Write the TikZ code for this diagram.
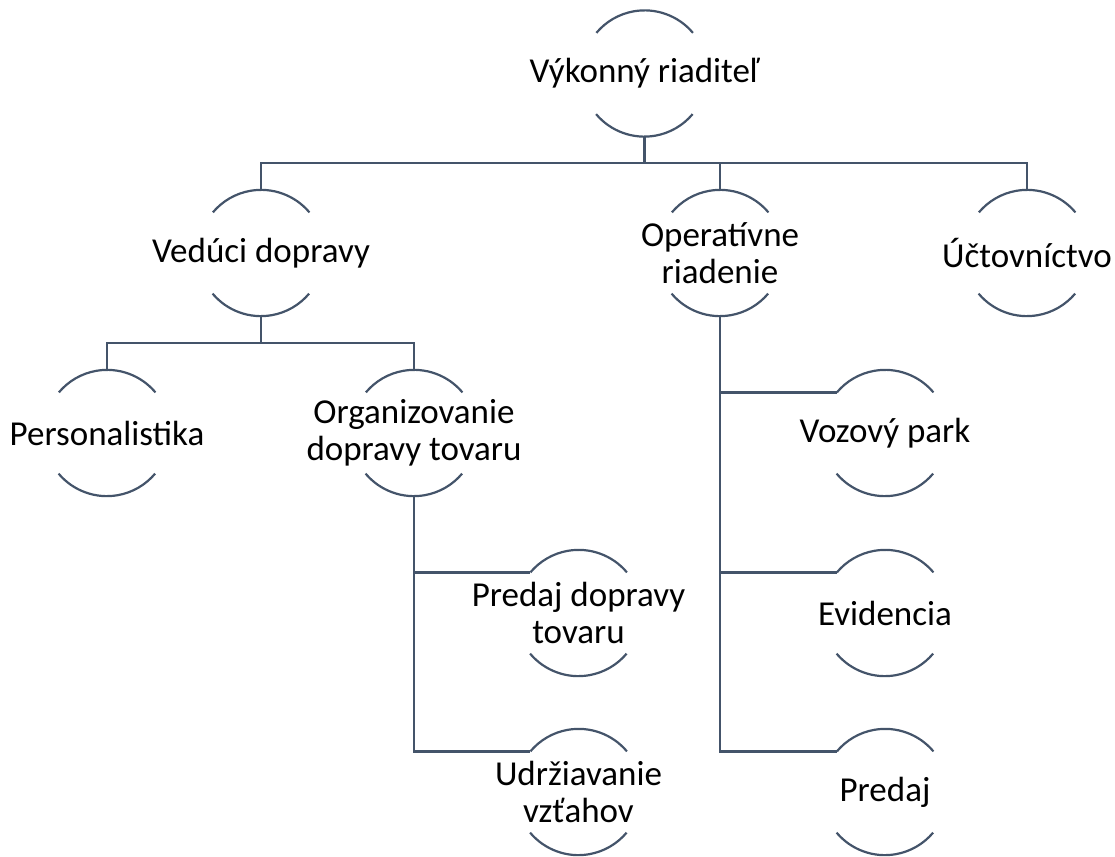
\documentclass[tikz,border=0pt]{standalone}
\usepackage{fontspec}
\setmainfont{Carlito}
\definecolor{lineblue}{HTML}{44546A}
\tikzset{
  ring/.style={circle, draw=none, minimum size=126pt, inner sep=0pt},
  lbl/.style={align=center, font=\fontsize{35}{37.5}\selectfont, text=black, inner sep=0pt},
  arcline/.style={draw=lineblue, line width=2.2pt},
  conn/.style={draw=lineblue, line width=2.4pt}
}
\newcommand{\ringarcs}[1]{%
  \draw[arcline] (#1.40) arc[start angle=40, end angle=140, radius=63pt];
  \draw[arcline] (#1.220) arc[start angle=220, end angle=320, radius=63pt];
}
\begin{document}
\begin{tikzpicture}[x=1pt,y=1pt]
\useasboundingbox (0,0) rectangle (1115,-856);
% nodes
\node[ring] (ceo) at (644.5,-73.5) {};
\node[ring] (ved) at (261,-253) {};
\node[ring] (ope) at (720,-253) {};
\node[ring] (uct) at (1027,-253) {};
\node[ring] (per) at (107,-433) {};
\node[ring] (org) at (414,-433) {};
\node[ring] (voz) at (885,-433) {};
\node[ring] (pdt) at (578.5,-613) {};
\node[ring] (evi) at (885,-613) {};
\node[ring] (udr) at (578.5,-792) {};
\node[ring] (pre) at (885,-792) {};
% labels
\node[lbl] (tceo) at (ceo) {Výkonný riaditeľ};
\node[lbl] (tved) at (ved) {Vedúci dopravy};
\node[lbl] (tope) at (ope) {Operatívne\\riadenie};
\node[lbl] (tuct) at (uct) {Účtovníctvo};
\node[lbl] (tper) at (per) {Personalistika};
\node[lbl] (torg) at (org) {Organizovanie\\dopravy tovaru};
\node[lbl] (tvoz) at (voz) {Vozový park};
\node[lbl] (tpdt) at (pdt) {Predaj dopravy\\tovaru};
\node[lbl] (tevi) at (evi) {Evidencia};
\node[lbl] (tudr) at (udr) {Udržiavanie\\vzťahov};
\node[lbl] (tpre) at (pre) {Predaj};
% arcs
\ringarcs{ceo}\ringarcs{ved}\ringarcs{ope}\ringarcs{uct}
\ringarcs{per}\ringarcs{org}\ringarcs{voz}\ringarcs{pdt}
\ringarcs{evi}\ringarcs{udr}\ringarcs{pre}
% connectors
\coordinate (bus1) at (0,-163);
\coordinate (bus2) at (0,-343);
\draw[conn] (ceo.south) -- (ceo.south |- bus1);
\draw[conn] (ved.north) |- (uct.north |- bus1) -- (uct.north);
\draw[conn] (ope.north) -- (ope.north |- bus1);
\draw[conn] (ved.south) -- (ved.south |- bus2);
\draw[conn] (per.north) |- (org.north |- bus2) -- (org.north);
\draw[conn] (org.south) |- (pdt.140);
\draw[conn] (org.south) |- (udr.140);
\draw[conn] (ope.south) |- (voz.140);
\draw[conn] (ope.south) |- (evi.140);
\draw[conn] (ope.south) |- (pre.140);
\end{tikzpicture}
\end{document}
